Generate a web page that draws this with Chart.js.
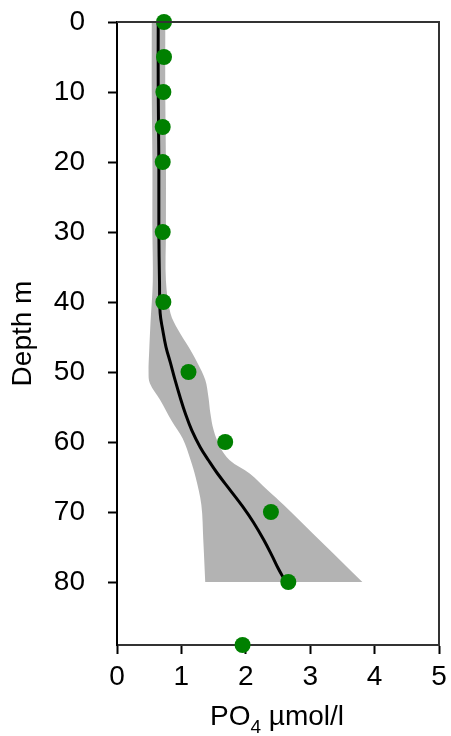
<!DOCTYPE html>
<html>
<head>
<meta charset="utf-8">
<script src="https://cdn.jsdelivr.net/npm/chart.js@4"></script>
<style>
  html, body { margin: 0; padding: 0; background: #fff; }
  #wrap { width: 451px; height: 736px; }
</style>
</head>
<body>
<div id="wrap"><canvas id="grafico"></canvas></div>
<script>
// Dados medidos (profundidade m, PO4 µmol/l)
const depth = [0, 5, 10, 15, 20, 30, 40, 50, 60, 70, 80, 89];
const po4 = [0.73, 0.73, 0.72, 0.71, 0.71, 0.71, 0.72, 1.11, 1.68, 2.39, 2.66, 1.95];

// Curva ajustada
const fitDepth = [0, 10, 20, 30, 37, 41.6, 44, 46.4, 48.7, 51.1, 53.6, 55.9, 58.3, 60.7, 62.6, 64.5, 66.9, 69.2, 71.5, 74, 76.3, 78, 80];
const fitPO4 = [0.64, 0.64, 0.65, 0.65, 0.66, 0.67, 0.71, 0.76, 0.83, 0.9, 0.98, 1.06, 1.16, 1.29, 1.42, 1.56, 1.76, 1.95, 2.12, 2.28, 2.41, 2.5, 2.62];

// Faixa de incerteza (borda esquerda e direita)
const bandLeftDepth = [0, 10, 20, 30, 37, 43, 47, 50, 51.6, 54, 57, 59.5, 62.5, 65, 69, 74, 80];
const bandLeftPO4 = [0.54, 0.54, 0.55, 0.55, 0.556, 0.52, 0.5, 0.49, 0.51, 0.67, 0.85, 1.02, 1.14, 1.22, 1.31, 1.34, 1.37];
const bandRightDepth = [0, 10, 20, 30, 37, 41.6, 44, 46.4, 48.7, 51.1, 53.6, 55.9, 58.3, 60.7, 62.6, 64.5, 66.9, 69, 74.5, 80];
const bandRightPO4 = [0.75, 0.75, 0.76, 0.76, 0.76, 0.83, 0.95, 1.11, 1.25, 1.37, 1.42, 1.45, 1.5, 1.6, 1.75, 2.06, 2.34, 2.59, 3.2, 3.81];

const xTicks = [0, 1, 2, 3, 4, 5];
const yTicks = [0, 10, 20, 30, 40, 50, 60, 70, 80];

const fonte = "'Liberation Sans', Arial, sans-serif";

const pontos = depth.map((d, i) => ({ x: po4[i], y: d }));
const curva = fitDepth.map((d, i) => ({ x: fitPO4[i], y: d }));

// polígono: desce pela borda esquerda, sobe pela direita (cantos de baixo duplicados = cantos vivos)
const esq = bandLeftDepth.map((d, i) => ({ x: bandLeftPO4[i], y: d }));
const dir = bandRightDepth.map((d, i) => ({ x: bandRightPO4[i], y: d })).reverse();
const faixa = esq.concat([esq[esq.length - 1]], [dir[0]], dir);

// Moldura e título do eixo x com subscrito
const extras = {
  id: "extras",
  afterDraw(chart) {
    const { ctx, chartArea: a } = chart;
    ctx.save();
    ctx.strokeStyle = "#333";
    ctx.lineWidth = 2;
    ctx.beginPath();
    ctx.moveTo(a.left, a.top);
    ctx.lineTo(a.right, a.top);
    ctx.lineTo(a.right, a.bottom);
    ctx.stroke();

    ctx.fillStyle = "#000";
    ctx.textBaseline = "alphabetic";
    const big = "28px " + fonte;
    const small = "19px " + fonte;
    ctx.font = big;
    const w1 = ctx.measureText("PO").width;
    const w3 = ctx.measureText(" µmol/l").width;
    ctx.font = small;
    const w2 = ctx.measureText("4").width;
    let x = 277 - (w1 + w2 + w3) / 2;
    const base = 725;
    ctx.font = big;
    ctx.fillText("PO", x, base);
    x += w1;
    ctx.font = small;
    ctx.fillText("4", x, base + 8);
    x += w2;
    ctx.font = big;
    ctx.fillText(" µmol/l", x, base);
    ctx.restore();
  }
};

const grafico = new Chart(document.getElementById("grafico"), {
  type: "scatter",
  data: {
    datasets: [
      {
        data: pontos,
        backgroundColor: "#008000",
        borderWidth: 0,
        pointRadius: 8,
        pointHoverRadius: 8,
        clip: false
      },
      {
        data: curva,
        showLine: true,
        borderColor: "#000",
        borderWidth: 3,
        pointRadius: 0,
        tension: 0.4
      },
      {
        data: faixa,
        showLine: true,
        borderWidth: 0,
        borderColor: "rgba(0,0,0,0)",
        backgroundColor: "#b3b3b3",
        fill: "shape",
        pointRadius: 0,
        tension: 0.35
      }
    ]
  },
  plugins: [extras],
  options: {
    responsive: true,
    maintainAspectRatio: false,
    animation: false,
    layout: { padding: { top: 22, right: 12, left: 0, bottom: 0 } },
    plugins: { legend: { display: false }, tooltip: { enabled: false } },
    scales: {
      x: {
        type: "linear",
        min: 0,
        max: 5,
        afterBuildTicks(s) { s.ticks = xTicks.map(v => ({ value: v })); },
        afterFit(s) { s.height = 91; s.paddingLeft = 0; s.paddingRight = 0; },
        ticks: { color: "#000", font: { size: 28, family: fonte }, padding: 6 },
        grid: { drawOnChartArea: false, tickLength: 9, tickColor: "#000", tickWidth: 2 },
        border: { color: "#333", width: 2 }
      },
      y: {
        type: "linear",
        reverse: true,
        min: 0,
        max: 89,
        afterBuildTicks(s) { s.ticks = yTicks.map(v => ({ value: v })); },
        afterFit(s) { s.width = 117; s.paddingTop = 0; s.paddingBottom = 0; },
        ticks: { color: "#000", font: { size: 28, family: fonte }, padding: 23 },
        grid: { drawOnChartArea: false, tickLength: 9, tickColor: "#000", tickWidth: 2 },
        border: { color: "#000", width: 2 },
        title: {
          display: true,
          text: "Depth m",
          color: "#000",
          font: { size: 28, family: fonte },
          padding: { top: 6, bottom: 0 }
        }
      }
    }
  }
});
</script>
</body>
</html>
